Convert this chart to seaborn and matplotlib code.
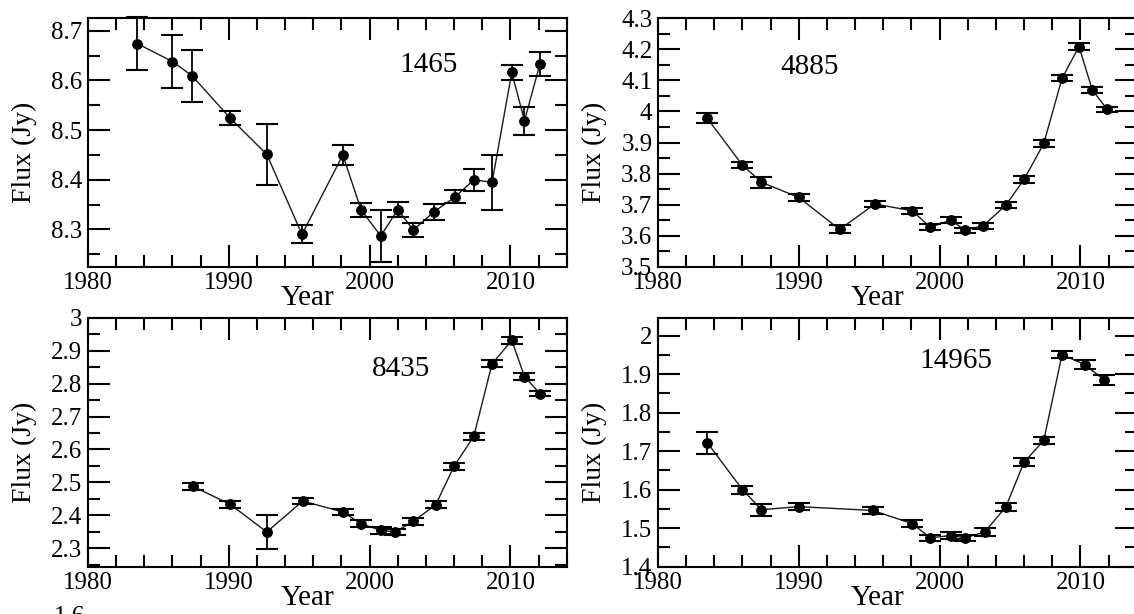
import numpy as np
import pandas as pd
import matplotlib
matplotlib.use("Agg")
import matplotlib.pyplot as plt
from matplotlib.ticker import MultipleLocator
import seaborn as sns

# ---- data -------------------------------------------------------------
freq_labels = ["1465", "4885", "8435", "14965"]

years_1465 = [1983.5, 1986.0, 1987.4, 1990.1, 1992.7, 1995.2, 1998.1, 1999.4, 2000.8,
              2002.0, 2003.1, 2004.6, 2006.1, 2007.4, 2008.7, 2010.1, 2011.0, 2012.1]
flux_1465 = [8.674, 8.638, 8.609, 8.524, 8.451, 8.290, 8.450, 8.339, 8.287,
             8.340, 8.299, 8.336, 8.366, 8.400, 8.395, 8.616, 8.519, 8.633]
err_1465 = [0.054, 0.053, 0.052, 0.014, 0.062, 0.018, 0.020, 0.014, 0.053,
            0.015, 0.014, 0.016, 0.013, 0.022, 0.055, 0.016, 0.028, 0.025]

years_4885 = [1983.5, 1986.0, 1987.35, 1990.0, 1992.9, 1995.4, 1998.05, 1999.35, 2000.8,
              2001.8, 2003.1, 2004.7, 2006.0, 2007.4, 2008.7, 2009.9, 2010.85, 2011.9]
flux_4885 = [3.978, 3.827, 3.772, 3.723, 3.620, 3.702, 3.680, 3.627, 3.650,
             3.618, 3.632, 3.698, 3.781, 3.897, 4.107, 4.209, 4.069, 4.007]
err_4885 = [0.016, 0.010, 0.018, 0.010, 0.013, 0.010, 0.010, 0.010, 0.010,
            0.008, 0.010, 0.010, 0.010, 0.010, 0.010, 0.010, 0.010, 0.008]

years_8435 = [1987.45, 1990.1, 1992.7, 1995.25, 1998.1, 1999.4, 2000.8, 2001.8,
              2003.1, 2004.7, 2006.0, 2007.4, 2008.7, 2010.1, 2011.0, 2012.1]
flux_8435 = [2.488, 2.433, 2.349, 2.443, 2.410, 2.374, 2.354, 2.349,
             2.381, 2.432, 2.549, 2.640, 2.861, 2.932, 2.822, 2.770]
err_8435 = [0.010, 0.010, 0.052, 0.008, 0.010, 0.010, 0.010, 0.010,
            0.010, 0.010, 0.010, 0.010, 0.010, 0.010, 0.010, 0.008]

years_14965 = [1983.5, 1986.0, 1987.35, 1990.0, 1995.25, 1998.05, 1999.35, 2000.8,
               2001.8, 2003.2, 2004.7, 2006.0, 2007.4, 2008.7, 2010.3, 2011.7]
flux_14965 = [1.722, 1.600, 1.548, 1.556, 1.546, 1.512, 1.475, 1.481,
              1.475, 1.490, 1.555, 1.671, 1.728, 1.951, 1.925, 1.885]
err_14965 = [0.029, 0.010, 0.016, 0.010, 0.008, 0.008, 0.008, 0.008,
             0.008, 0.010, 0.010, 0.010, 0.010, 0.008, 0.012, 0.012]

x_label = "Year"
y_label = "Flux (Jy)"
x_ticks = [1980, 1990, 2000, 2010]

# ---- style ------------------------------------------------------------
sns.set_theme(style="ticks")
plt.rcParams["font.family"] = ["Liberation Serif", "DejaVu Serif"]
plt.rcParams["axes.linewidth"] = 1.5
plt.rcParams["text.color"] = "black"
plt.rcParams["axes.labelcolor"] = "black"
plt.rcParams["xtick.color"] = "black"
plt.rcParams["ytick.color"] = "black"

W, H = 1134, 614
fig = plt.figure(figsize=(W / 100, H / 100), dpi=100)
fig.patch.set_facecolor("white")

def px_axes(left, top, right, bottom):
    return fig.add_axes([left / W, 1 - bottom / H, (right - left) / W, (bottom - top) / H])

panels = [
    dict(years=years_1465, flux=flux_1465, err=err_1465, label=freq_labels[0],
         box=(88, 18.3, 566.7, 266.7), ylim=(8.225, 8.725), yticks=[8.3, 8.4, 8.5, 8.6, 8.7],
         fmt="{:.1f}", lab_xy=(2004.2, 8.631)),
    dict(years=years_4885, flux=flux_4885, err=err_4885, label=freq_labels[1],
         box=(658, 18.3, 1136.7, 266.7), ylim=(3.5, 4.3),
         yticks=[3.5, 3.6, 3.7, 3.8, 3.9, 4.0, 4.1, 4.2, 4.3], fmt="{:g}", lab_xy=(1990.8, 4.144)),
    dict(years=years_8435, flux=flux_8435, err=err_8435, label=freq_labels[2],
         box=(88, 318, 566.7, 566.5), ylim=(2.244, 3.0),
         yticks=[2.3, 2.4, 2.5, 2.6, 2.7, 2.8, 2.9, 3.0], fmt="{:g}", lab_xy=(2002.2, 2.846)),
    dict(years=years_14965, flux=flux_14965, err=err_14965, label=freq_labels[3],
         box=(658, 318.3, 1136.7, 566.7), ylim=(1.4, 2.045),
         yticks=[1.4, 1.5, 1.6, 1.7, 1.8, 1.9, 2.0], fmt="{:g}", lab_xy=(2001.15, 1.933)),
]

for p in panels:
    ax = px_axes(*p["box"])
    df = pd.DataFrame({"Year": p["years"], "Flux": p["flux"]})
    sns.lineplot(data=df, x="Year", y="Flux", ax=ax, sort=False, color="#1a1a1a",
                 linewidth=1.0, marker="o", markersize=7, markeredgecolor="black",
                 markerfacecolor="black", zorder=3)
    ax.errorbar(p["years"], p["flux"], yerr=p["err"], fmt="none", ecolor="black",
                elinewidth=1.3, capsize=8, capthick=1.5, zorder=4, clip_on=False)
    ax.set_xlim(1980, 2014)
    ax.set_ylim(*p["ylim"])
    ax.set_xticks(x_ticks)
    ax.set_xticklabels([str(t) for t in x_ticks])
    ax.xaxis.set_minor_locator(MultipleLocator(2))
    ax.set_yticks(p["yticks"])
    ax.set_yticklabels([p["fmt"].format(t) for t in p["yticks"]])
    ax.yaxis.set_minor_locator(MultipleLocator(0.05))
    ax.tick_params(which="both", direction="in", top=True, right=True, labelsize=18,
                   width=1.5, colors="black")
    ax.tick_params(which="major", length=16, pad=4)
    ax.tick_params(which="minor", length=8.5)
    ax.set_xlabel(x_label, fontsize=21, va="center")
    ax.xaxis.set_label_coords(0.458, -0.125)
    ax.set_ylabel(y_label, fontsize=20, va="center")
    ax.yaxis.set_label_coords(-0.133, 0.46)
    for s in ax.spines.values():
        s.set_color("black")
        s.set_linewidth(1.5)
    ax.set_facecolor("white")
    ax.text(p["lab_xy"][0], p["lab_xy"][1], p["label"], fontsize=21,
            ha="center", va="center")

# partly visible tick label from a panel below the crop
fig.text(85 / W, 1 - 606 / H, "1.6", fontsize=18, ha="right", va="top")

fig.savefig("out.png", dpi=100, facecolor="white")
